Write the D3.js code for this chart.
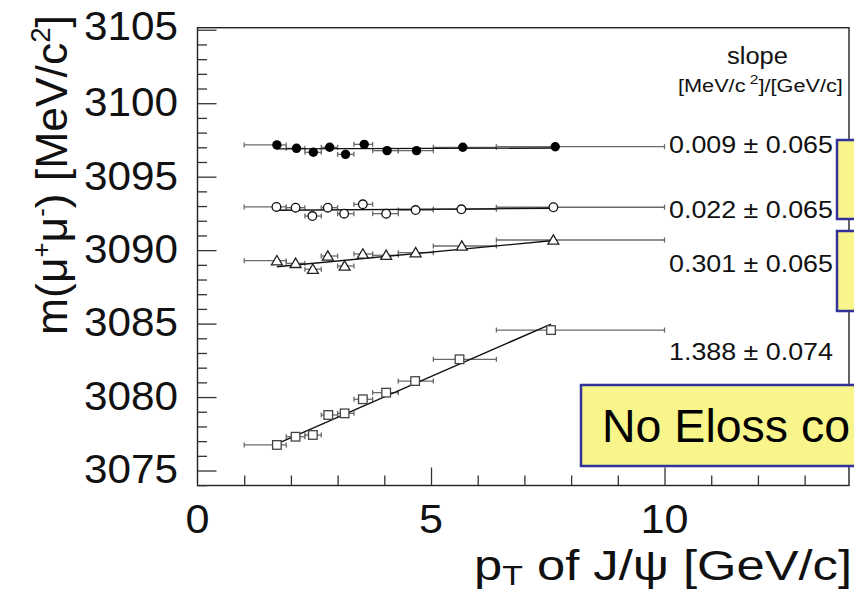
<!DOCTYPE html>
<html>
<head>
<meta charset="utf-8">
<script src="https://cdn.jsdelivr.net/npm/d3@7"></script>
<style>
  html, body { margin: 0; padding: 0; background: #fff; }
  svg { display: block; font-family: "Liberation Sans", Arial, Helvetica, sans-serif; }
</style>
</head>
<body>
<svg id="chart" width="854" height="595"></svg>
<script>
// J/psi dimuon mass vs pT, four energy-loss treatments with linear fits

// pT bin edges [GeV/c]
const binLo = [1.0, 1.9, 2.3, 2.65, 3.0, 3.35, 3.75, 4.3, 5.05, 6.4];
const binHi = [1.9, 2.3, 2.65, 3.0, 3.35, 3.75, 4.3, 5.05, 6.4, 10.0];

// mean pT in each bin, per series
const ptFilled = [1.70, 2.12, 2.48, 2.83, 3.17, 3.57, 4.06, 4.69, 5.68, 7.66];
const ptOpen   = [1.69, 2.10, 2.46, 2.79, 3.14, 3.54, 4.04, 4.67, 5.65, 7.62];
const ptTri    = [1.70, 2.10, 2.47, 2.79, 3.15, 3.54, 4.04, 4.67, 5.66, 7.62];
const ptSquare = [1.70, 2.10, 2.47, 2.80, 3.15, 3.54, 4.04, 4.66, 5.61, 7.57];

// fitted J/psi mass [MeV/c^2]
const massFilled = [3097.16, 3096.93, 3096.66, 3097.00, 3096.52, 3097.20, 3096.77, 3096.77, 3097.00, 3097.04];
const massOpen   = [3092.94, 3092.89, 3092.32, 3092.89, 3092.48, 3093.12, 3092.48, 3092.73, 3092.78, 3092.92];
const massTri    = [3089.28, 3089.10, 3088.70, 3089.60, 3088.92, 3089.74, 3089.65, 3089.83, 3090.28, 3090.69];
const massSquare = [3076.74, 3077.30, 3077.42, 3078.78, 3078.89, 3079.85, 3080.30, 3081.09, 3082.57, 3084.56];

// linear fit parameters: slope [MeV/c^2 per GeV/c] and intercept
const fitSlope     = [0.009, 0.022, 0.301, 1.388];
const fitSlopeErr  = [0.065, 0.065, 0.065, 0.074];
const fitIntercept = [3096.88, 3092.68, 3088.36, 3074.46];

const xTicks = [0, 5, 10];
const yTicks = [3075, 3080, 3085, 3090, 3095, 3100, 3105];

const svg = d3.select("#chart");
svg.append("rect").attr("width", 854).attr("height", 595).attr("fill", "#fff");

const frame = {left: 197.5, right: 849, top: 27.7, bottom: 485.5};
const x = d3.scaleLinear().domain([0, 13.95]).range([frame.left, frame.right]);
const y = d3.scaleLinear().domain([3073.98, 3105.14]).range([frame.bottom, frame.top]);

// scale a text group horizontally (along its reading direction) to a target width
function fitText(g, tx, ty, target, rot) {
  const w = g.node().getBBox().width;
  const k = target / w;
  g.attr("transform", `translate(${tx},${ty})` + (rot ? ` rotate(${rot})` : "") + ` scale(${k},1)`);
}

// frame
svg.append("rect")
  .attr("x", frame.left).attr("y", frame.top)
  .attr("width", frame.right - frame.left).attr("height", frame.bottom - frame.top)
  .attr("fill", "none").attr("stroke", "#222").attr("stroke-width", 1.4);

// y axis: ticks pointing inward, major every 5, minor every 1
const yAxis = d3.axisRight(y)
  .tickValues(d3.range(3074, 3106, 1))
  .tickSize(0).tickFormat("");
const yAx = svg.append("g").attr("transform", `translate(${frame.left},0)`).call(yAxis);
yAx.select(".domain").remove();
yAx.selectAll(".tick line")
  .attr("x2", d => d % 5 === 0 ? 19 : 9.5)
  .attr("stroke", "#333").attr("stroke-width", 1.3);

// x axis: ticks pointing up, major every 5, minor every 1
const xAxis = d3.axisTop(x).tickValues(d3.range(1, 14, 1)).tickSize(0).tickFormat("");
const xAx = svg.append("g").attr("transform", `translate(0,${frame.bottom})`).call(xAxis);
xAx.select(".domain").remove();
xAx.selectAll(".tick line")
  .attr("y2", d => d % 5 === 0 ? -18 : -10)
  .attr("stroke", "#333").attr("stroke-width", 1.3);

// tick labels
yTicks.forEach(v => {
  const g = svg.append("g");
  g.append("text").attr("text-anchor", "end").attr("dy", "0.36em")
    .attr("font-size", 40).attr("fill", "#111").text(v);
  fitText(g, 178, y(v) - (v === 3105 ? 4 : 1.5), 94);
});
xTicks.forEach(v => {
  const g = svg.append("g");
  g.append("text").attr("text-anchor", "middle")
    .attr("font-size", 40).attr("fill", "#111").text(v);
  fitText(g, x(v), 533, v === 10 ? 48 : 24);
});

// axis titles
{
  const g = svg.append("g");
  const t = g.append("text").attr("text-anchor", "middle").attr("font-size", 45).attr("fill", "#111");
  t.append("tspan").text("m(μ");
  t.append("tspan").attr("font-size", 26).attr("dy", -17).text("+");
  t.append("tspan").attr("dy", 17).text("μ");
  t.append("tspan").attr("font-size", 26).attr("dy", -17).text("-");
  t.append("tspan").attr("dy", 17).text(") [MeV/c");
  t.append("tspan").attr("font-size", 28).attr("dy", -17).text("2");
  t.append("tspan").attr("dy", 17).text("]");
  fitText(g, 67, 175, 320, -90);
}
{
  const g = svg.append("g");
  const t = g.append("text").attr("text-anchor", "end").attr("font-size", 42).attr("fill", "#111");
  t.append("tspan").text("p");
  t.append("tspan").attr("font-size", 28).attr("dy", 5).text("T");
  t.append("tspan").attr("dy", -5).text(" of J/ψ [GeV/c]");
  fitText(g, 852, 580, 378);
}

// series drawing
const series = [
  {pt: ptFilled, mass: massFilled, shape: "circleFilled"},
  {pt: ptOpen,   mass: massOpen,   shape: "circleOpen"},
  {pt: ptTri,    mass: massTri,    shape: "triangle"},
  {pt: ptSquare, mass: massSquare, shape: "square"}
];

const plot = svg.append("g");

series.forEach((s, si) => {
  const g = plot.append("g");
  // horizontal error bars (bin extent) with end caps
  s.pt.forEach((p, i) => {
    const yy = y(s.mass[i]);
    g.append("line").attr("x1", x(binLo[i])).attr("x2", x(binHi[i]))
      .attr("y1", yy).attr("y2", yy).attr("stroke", "#6a6a6a").attr("stroke-width", 1.3);
    [binLo[i], binHi[i]].forEach(b => {
      g.append("line").attr("x1", x(b)).attr("x2", x(b))
        .attr("y1", yy - 2.5).attr("y2", yy + 2.5).attr("stroke", "#6a6a6a").attr("stroke-width", 1.3);
    });
  });
  // linear fit
  const x0 = s.pt[0], x1 = s.pt[s.pt.length - 1];
  g.append("line")
    .attr("x1", x(x0)).attr("y1", y(fitIntercept[si] + fitSlope[si] * x0))
    .attr("x2", x(x1)).attr("y2", y(fitIntercept[si] + fitSlope[si] * x1))
    .attr("stroke", "#111").attr("stroke-width", 1.4);
  // markers
  s.pt.forEach((p, i) => {
    const cx = x(p), cy = y(s.mass[i]);
    if (s.shape === "circleFilled") {
      g.append("circle").attr("cx", cx).attr("cy", cy).attr("r", 4.7).attr("fill", "#000");
    } else if (s.shape === "circleOpen") {
      g.append("circle").attr("cx", cx).attr("cy", cy).attr("r", 4.3)
        .attr("fill", "#fff").attr("stroke", "#111").attr("stroke-width", 1.3);
    } else if (s.shape === "triangle") {
      const h = 5.2;
      g.append("path")
        .attr("d", `M${cx},${cy - h} L${cx + h * 1.05},${cy + h * 0.8} L${cx - h * 1.05},${cy + h * 0.8} Z`)
        .attr("fill", "#fff").attr("stroke", "#222").attr("stroke-width", 1.3);
    } else {
      g.append("rect").attr("x", cx - 4.3).attr("y", cy - 4.3).attr("width", 8.6).attr("height", 8.6)
        .attr("fill", "#fff").attr("stroke", "#444").attr("stroke-width", 1.3);
    }
  });
});

// slope header and values
{
  const g = svg.append("g");
  g.append("text").attr("font-size", 23).attr("fill", "#111").text("slope");
  fitText(g, 727, 64, 61);
}
{
  const g = svg.append("g");
  const t = g.append("text").attr("font-size", 18).attr("fill", "#111");
  t.append("tspan").text("[MeV/c");
  t.append("tspan").attr("font-size", 13).attr("dy", -8).text(" 2");
  t.append("tspan").attr("dy", 8).text("]/[GeV/c]");
  fitText(g, 678, 92, 165);
}
const slopeBaselines = [153, 218, 272, 360];
fitSlope.forEach((sl, i) => {
  const g = svg.append("g");
  g.append("text").attr("font-size", 24).attr("fill", "#111")
    .text(`${sl.toFixed(3)} ± ${fitSlopeErr[i].toFixed(3)}`);
  fitText(g, 669, slopeBaselines[i], 164);
});

// annotation boxes
const boxFill = "#f8f58b", boxStroke = "#32329a";
[[837, 140, 40, 79], [837, 231, 40, 80]].forEach(b => {
  svg.append("rect").attr("x", b[0]).attr("y", b[1]).attr("width", b[2]).attr("height", b[3])
    .attr("fill", boxFill).attr("stroke", boxStroke).attr("stroke-width", 2.5);
});
svg.append("rect").attr("x", 581).attr("y", 385).attr("width", 320).attr("height", 81)
  .attr("fill", boxFill).attr("stroke", boxStroke).attr("stroke-width", 2.5);
svg.append("text").attr("x", 602).attr("y", 442).attr("font-size", 46.5).attr("fill", "#000")
  .text("No Eloss co");
</script>
</body>
</html>
